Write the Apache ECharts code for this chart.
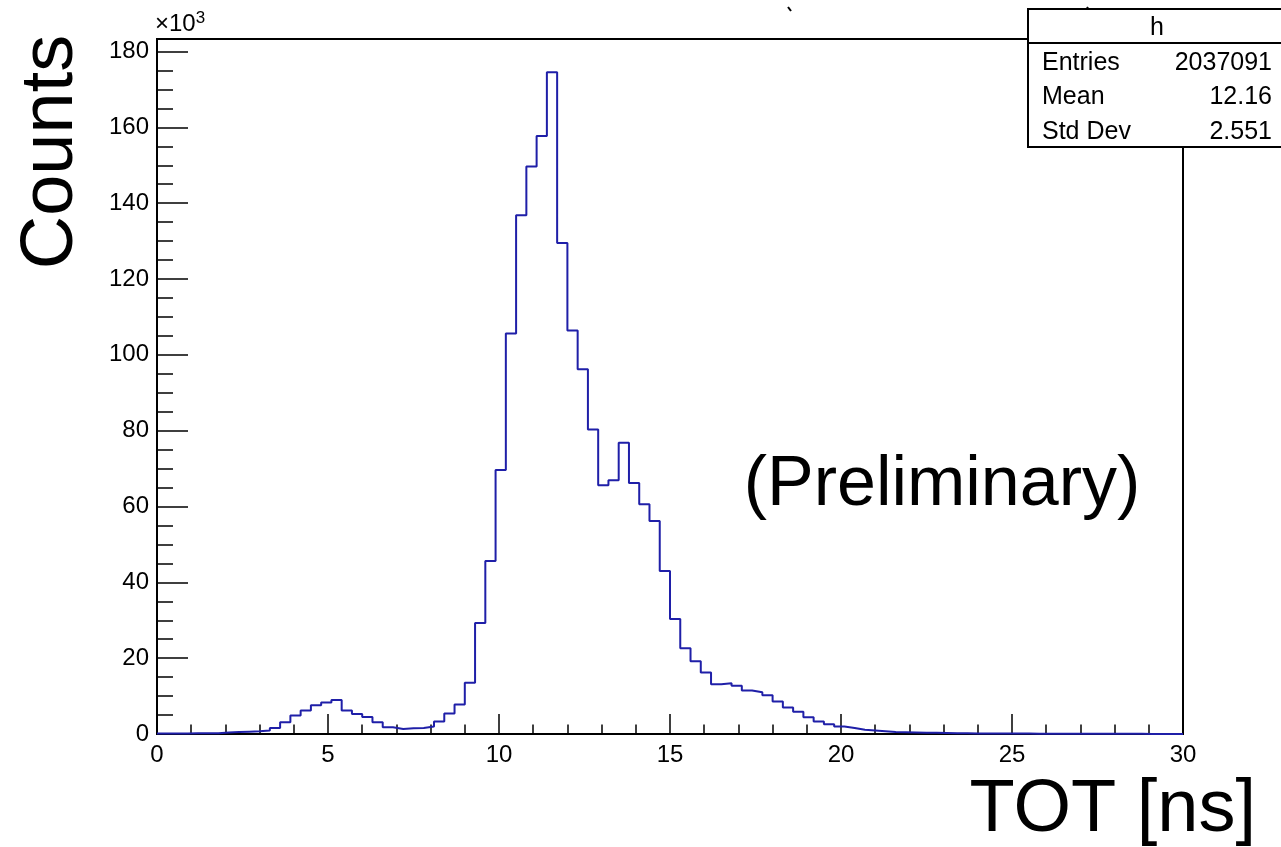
<!DOCTYPE html>
<html>
<head>
<meta charset="utf-8">
<script src="https://cdn.jsdelivr.net/npm/echarts@6/dist/echarts.min.js"></script>
<style>
  html, body { margin: 0; padding: 0; background: #fff; }
  #hist { width: 1281px; height: 847px; }
</style>
</head>
<body>
<div id="hist"></div>
<script>
// histogram "h": 100 bins of 0.3 ns from 0 to 30, counts in units of 10^3
var xMin = 0;
var xMax = 30;
var binWidth = 0.3;
var counts = [
  0.1, 0.1, 0.1, 0.2, 0.2, 0.2, 0.4, 0.5, 0.6, 0.7,
  0.9, 1.6, 3.1, 4.9, 6.2, 7.6, 8.3, 9.0, 6.2, 5.3,
  4.5, 3.1, 1.8, 1.3, 1.5, 1.6, 2.0, 3.3, 5.4, 7.8,
  13.5, 29.3, 45.6, 69.6, 105.6, 136.8, 149.7, 157.7, 174.5, 129.5,
  106.4, 96.2, 80.3, 65.6, 66.9, 76.8, 66.2, 60.6, 56.2, 43.0,
  30.3, 22.6, 19.2, 16.2, 13.1, 13.4, 12.7, 11.5, 11.0, 10.2,
  8.6, 7.0, 5.9, 4.4, 3.3, 2.6, 2.0, 1.6, 1.1, 0.9,
  0.7, 0.5, 0.45, 0.4, 0.35, 0.3, 0.25, 0.2, 0.2, 0.15,
  0.15, 0.12, 0.1, 0.1, 0.1, 0.08, 0.08, 0.07, 0.06, 0.06,
  0.05, 0.05, 0.05, 0.04, 0.04, 0.04, 0.03, 0.03, 0.03, 0.03
];
var yMax = 183.3;
var statNames = ['Entries', 'Mean', 'Std Dev'];
var statValues = ['2037091', '12.16', '2.551'];

var font = "'Liberation Sans', Arial, Helvetica, sans-serif";

// step line: one point per lower bin edge, plus the last upper edge
var stepData = counts.map(function (c, i) { return [xMin + i * binWidth, c]; });
stepData.push([xMax, counts[counts.length - 1]]);

var statTexts = [];
statNames.forEach(function (name, i) {
  statTexts.push({ type: 'text', x: 1042, y: 63 + i * 34.5, z: 102,
    style: { text: name, font: '25px ' + font, fill: '#000', textVerticalAlign: 'middle' } });
  statTexts.push({ type: 'text', x: 1272, y: 63 + i * 34.5, z: 102,
    style: { text: statValues[i], font: '25px ' + font, fill: '#000', textAlign: 'right', textVerticalAlign: 'middle' } });
});

var option = {
  backgroundColor: '#fff',
  animation: false,
  grid: {
    left: 157,
    right: 98,
    top: 39,
    bottom: 113,
    show: true,
    borderColor: '#000',
    borderWidth: 2,
    backgroundColor: 'transparent'
  },
  xAxis: {
    type: 'value',
    min: xMin,
    max: xMax,
    interval: 5,
    axisLine: { show: true, lineStyle: { color: '#000', width: 2 } },
    axisTick: { show: true, inside: true, length: 20, lineStyle: { color: '#000', width: 1.5 } },
    minorTick: { show: true, splitNumber: 5, length: 9.5, lineStyle: { color: '#000', width: 1.5 } },
    axisLabel: { fontSize: 24, fontFamily: font, color: '#000', margin: 9 },
    splitLine: { show: false }
  },
  yAxis: [
    {
      type: 'value',
      min: 0,
      max: yMax,
      interval: 20,
      axisLine: { show: true, lineStyle: { color: '#000', width: 2 } },
      axisTick: { show: true, inside: true, length: 31, lineStyle: { color: '#000', width: 1.5 } },
      axisLabel: { fontSize: 24, fontFamily: font, color: '#000', margin: 8, showMaxLabel: false },
      splitLine: { show: false }
    },
    {
      // minor ticks every 5k
      type: 'value',
      position: 'left',
      min: 0,
      max: yMax,
      interval: 5,
      axisLine: { show: false },
      axisTick: { show: true, inside: true, length: 16, lineStyle: { color: '#000', width: 1.5 } },
      axisLabel: { show: false },
      splitLine: { show: false }
    }
  ],
  series: [
    {
      name: 'h',
      type: 'line',
      step: 'end',
      data: stepData,
      symbol: 'none',
      lineStyle: { color: '#1f1fa8', width: 2 },
      z: 3
    }
  ],
  graphic: [
    { type: 'text', left: 155, top: 10, z: 100,
      style: { text: '×10{s|3}', font: '24px ' + font, fill: '#000',
        rich: { s: { fontSize: 17, fontFamily: font, verticalAlign: 'top', padding: [0, 0, 12, 0] } } } },
    { type: 'text', x: 52, y: 152, rotation: Math.PI / 2, z: 100,
      style: { text: 'Counts', font: '74px ' + font, fill: '#000', textAlign: 'center', textVerticalAlign: 'middle' } },
    { type: 'text', x: 1256, y: 811, z: 100,
      style: { text: 'TOT [ns]', font: '74px ' + font, fill: '#000', textAlign: 'right', textVerticalAlign: 'middle' } },
    { type: 'text', x: 942, y: 486, z: 100,
      style: { text: '(Preliminary)', font: '70px ' + font, fill: '#000', textAlign: 'center', textVerticalAlign: 'middle' } },
    // bottoms of the clipped title's brackets
    { type: 'line', z: 100, shape: { x1: 788, y1: 7, x2: 791, y2: 11 },
      style: { stroke: '#000', lineWidth: 2 } },
    { type: 'line', z: 100, shape: { x1: 1088, y1: 7, x2: 1085, y2: 11 },
      style: { stroke: '#000', lineWidth: 2 } },
    // stats box
    { type: 'rect', z: 101, shape: { x: 1028, y: 9, width: 270, height: 138 },
      style: { fill: '#fff', stroke: '#000', lineWidth: 2 } },
    { type: 'line', z: 102, shape: { x1: 1028, y1: 43, x2: 1290, y2: 43 },
      style: { stroke: '#000', lineWidth: 2 } },
    { type: 'text', x: 1157, y: 28, z: 102,
      style: { text: 'h', font: '25px ' + font, fill: '#000', textAlign: 'center', textVerticalAlign: 'middle' } }
  ].concat(statTexts)
};

var chart = echarts.init(document.getElementById('hist'));
chart.setOption(option);
window.onresize = function () {
  chart.resize();
};
</script>
</body>
</html>
